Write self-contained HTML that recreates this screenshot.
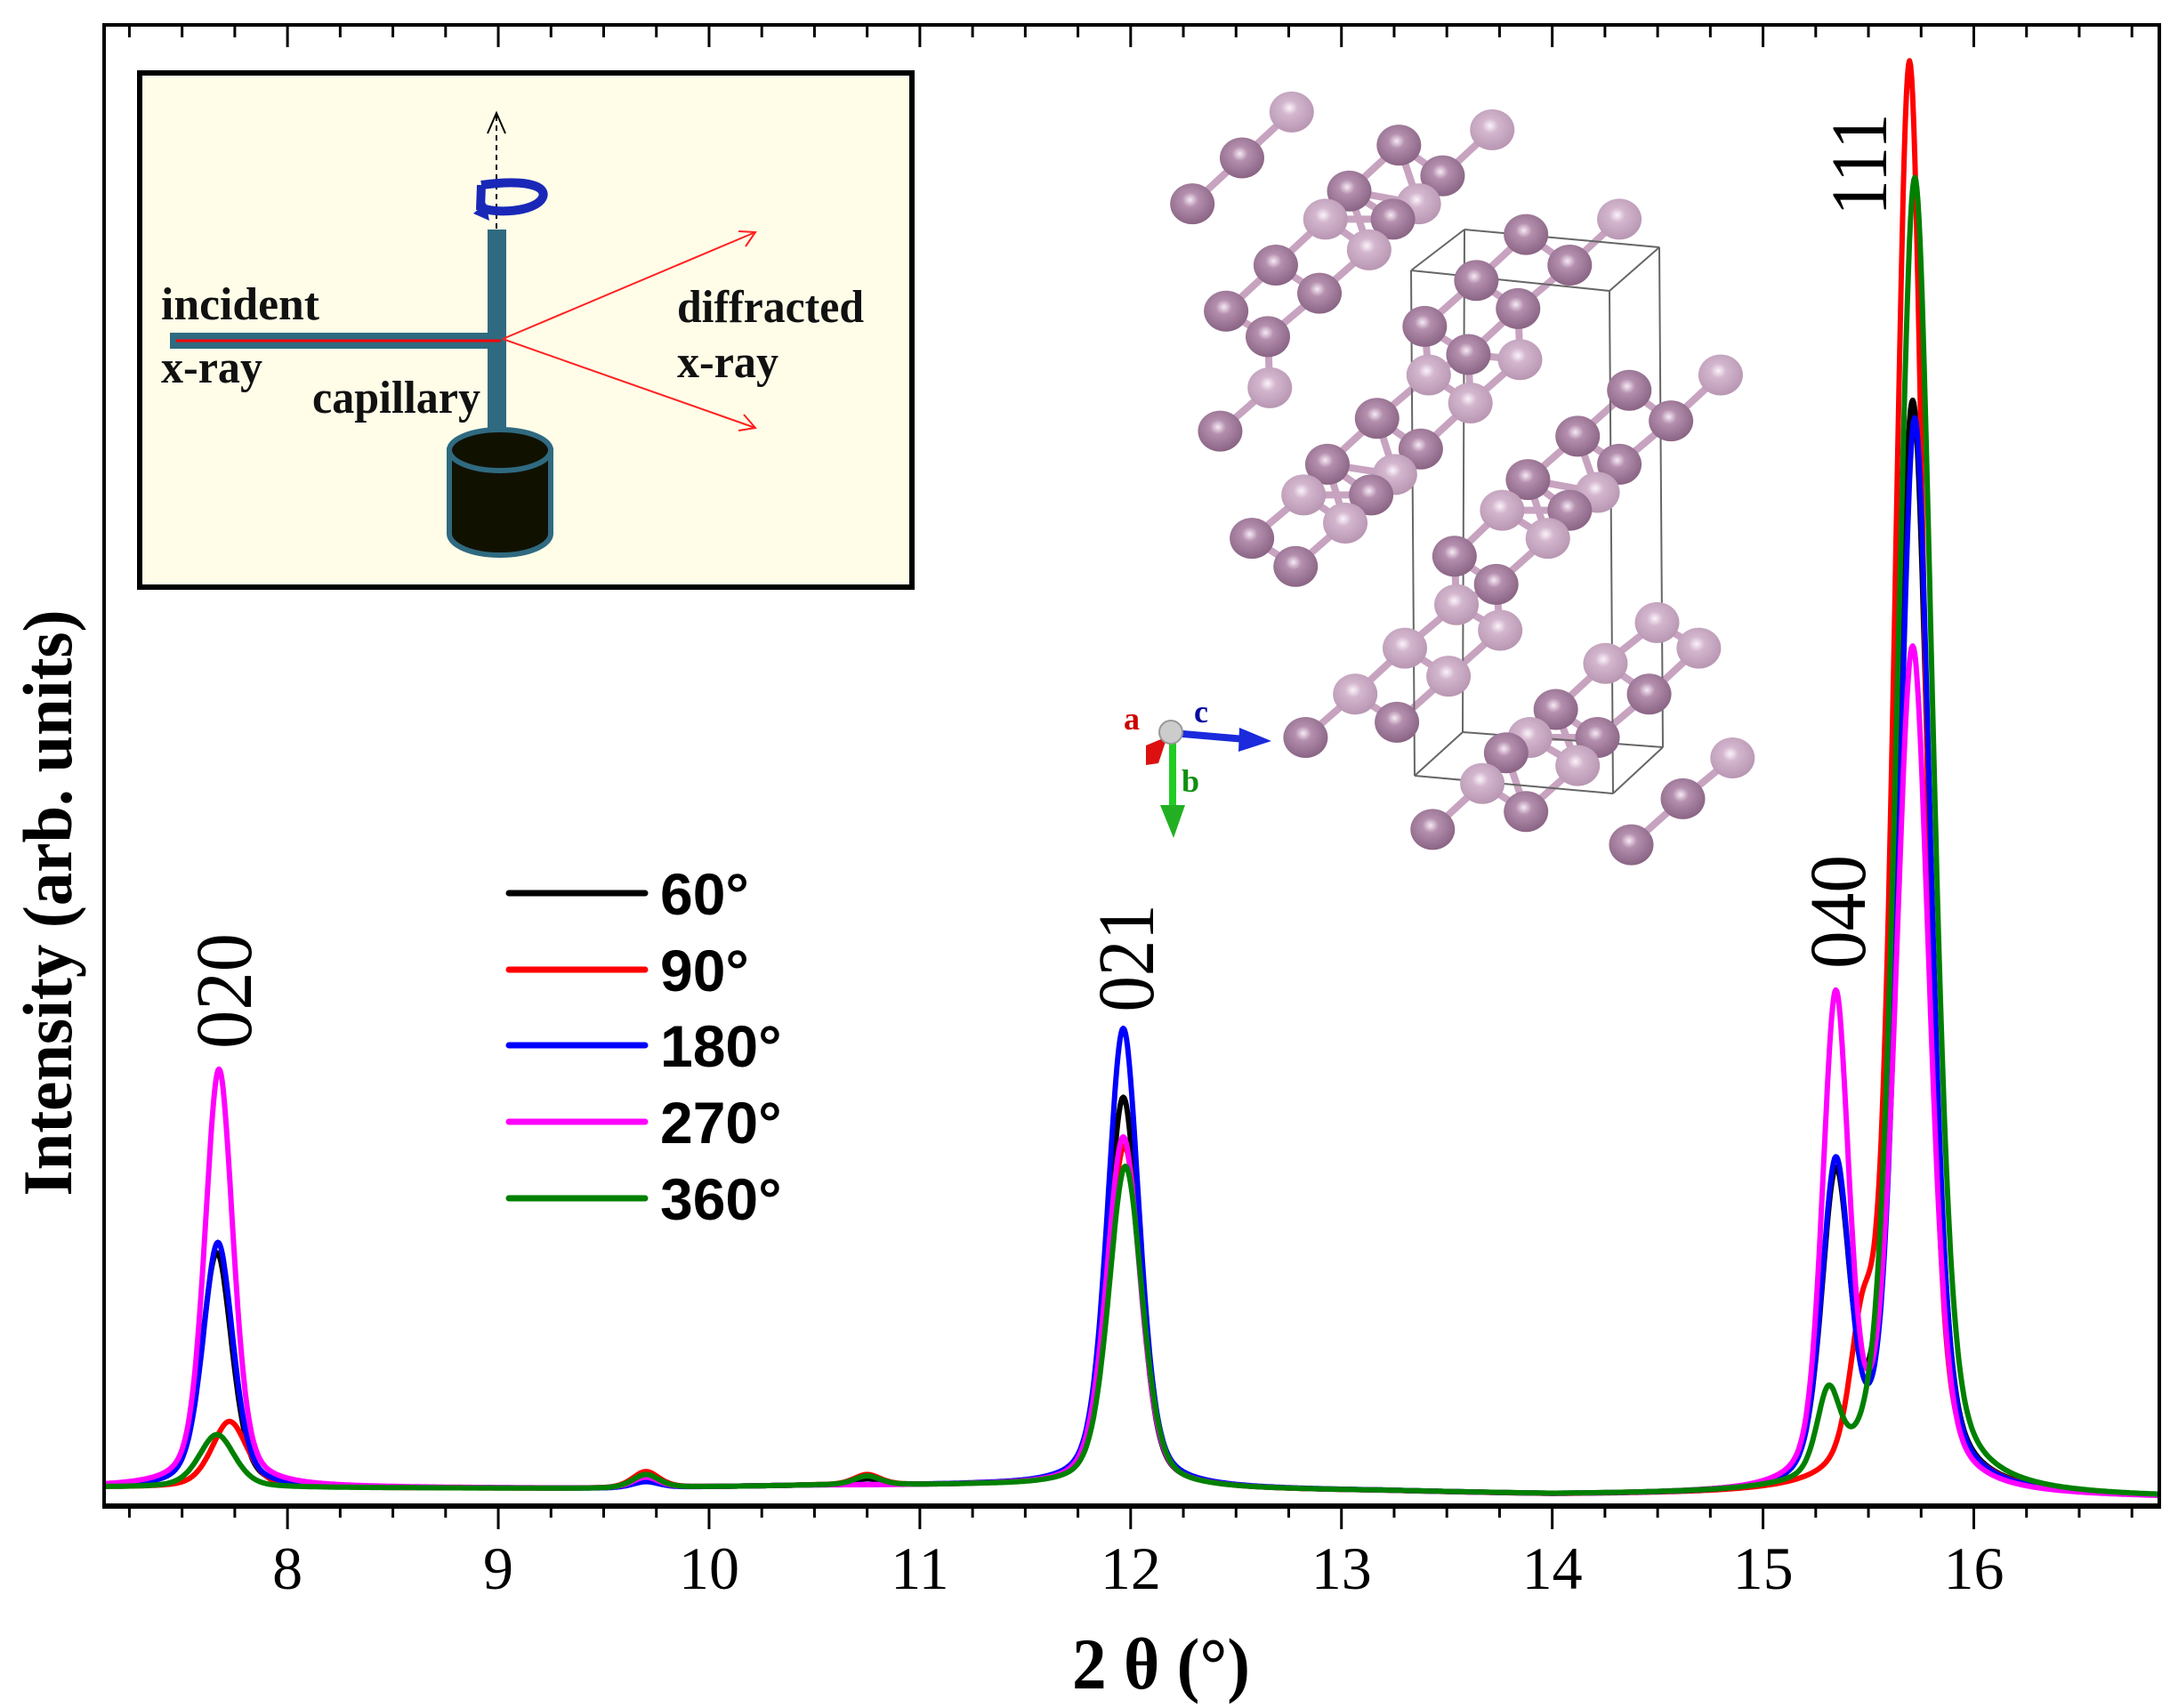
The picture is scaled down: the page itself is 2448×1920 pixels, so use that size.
<!DOCTYPE html>
<html><head><meta charset="utf-8"><style>
html,body{margin:0;padding:0;background:#fff}
svg{display:block}
</style></head><body>
<svg id="chart" width="2448" height="1920" viewBox="0 0 2448 1920" xmlns="http://www.w3.org/2000/svg">
<defs>
  <radialGradient id="gDark" cx="0.45" cy="0.4" r="0.6"><stop offset="0" stop-color="#f6eaf4"/><stop offset="0.3" stop-color="#b48fae"/><stop offset="1" stop-color="#8a6484"/></radialGradient>
  <radialGradient id="gLight" cx="0.45" cy="0.4" r="0.6"><stop offset="0" stop-color="#fbf3fa"/><stop offset="0.3" stop-color="#d3b6ce"/><stop offset="1" stop-color="#b896b2"/></radialGradient>
</defs>
<rect x="0" y="0" width="2448" height="1920" fill="#fff"/>
<g id="structure"></g>
<g id="series"></g>
<g id="frame">
  <line x1="117" y1="28" x2="117" y2="1693" stroke="#000" stroke-width="4"/>
  <line x1="2427" y1="28" x2="2427" y2="1693" stroke="#000" stroke-width="4"/>
  <line x1="115" y1="28" x2="2429" y2="28" stroke="#000" stroke-width="4"/>
  <line x1="115" y1="1693" x2="2429" y2="1693" stroke="#000" stroke-width="6"/>
</g>
<g id="ticks"></g>
<text x="1305" y="1898" text-anchor="middle" font-family="Liberation Serif, serif" font-weight="bold" font-size="82" textLength="200" lengthAdjust="spacingAndGlyphs">2 θ (°)</text>
<text transform="translate(80,1015) rotate(-90)" text-anchor="middle" font-family="Liberation Serif, serif" font-weight="bold" font-size="78" textLength="659" lengthAdjust="spacingAndGlyphs">Intensity (arb. units)</text>
<g font-family="Liberation Serif, serif" font-size="90">
  <text transform="translate(282,1114) rotate(-90)" text-anchor="middle" textLength="130" lengthAdjust="spacingAndGlyphs">020</text>
  <text transform="translate(1296,1077) rotate(-90)" text-anchor="middle" textLength="121" lengthAdjust="spacingAndGlyphs">021</text>
  <text transform="translate(2096,1025) rotate(-90)" text-anchor="middle" textLength="128" lengthAdjust="spacingAndGlyphs">040</text>
  <text transform="translate(2120,185) rotate(-90)" text-anchor="middle" textLength="115" lengthAdjust="spacingAndGlyphs">111</text>
</g>
<g id="legend"></g>
<g>
  <rect x="157" y="82" width="868" height="578" fill="#fffde8" stroke="#000" stroke-width="6"/>
  <line x1="558" y1="130" x2="558" y2="527" stroke="#000" stroke-width="2" stroke-dasharray="6,5"/>
  <polyline points="548,150 558,127 568,150" fill="none" stroke="#000" stroke-width="2"/>
  <path d="M541,208 C600,200 618,212 608,225 C595,240 548,240 540,232 M541,208 L540,236" fill="none" stroke="#1a28b8" stroke-width="10"/>
  <path d="M532,240 L546,228 L550,248 Z" fill="#1a28b8"/>
  <rect x="548" y="258" width="21" height="230" fill="#2f6a80"/>
  <rect x="191" y="374" width="372" height="18" fill="#2f6a80"/>
  <line x1="198" y1="383" x2="563" y2="383" stroke="#ff0000" stroke-width="3"/>
  <line x1="565" y1="381" x2="849" y2="261" stroke="#ff2020" stroke-width="2"/>
  <polyline points="830,260 849,261 838,277" fill="none" stroke="#ff2020" stroke-width="2"/>
  <line x1="565" y1="381" x2="849" y2="481" stroke="#ff2020" stroke-width="2"/>
  <polyline points="836,466 849,481 830,484" fill="none" stroke="#ff2020" stroke-width="2"/>
  <path d="M505,506 L505,600 A57,24 0 0 0 619,600 L619,506 Z" fill="#111100" stroke="#2f6a80" stroke-width="6"/>
  <ellipse cx="562" cy="506" rx="57" ry="23" fill="#111100" stroke="#2f6a80" stroke-width="6"/>
  <g font-family="Liberation Serif, serif" font-weight="bold" font-size="52" fill="#111">
    <text x="181" y="359" textLength="178" lengthAdjust="spacingAndGlyphs">incident</text>
    <text x="181" y="430" textLength="114" lengthAdjust="spacingAndGlyphs">x-ray</text>
    <text x="351" y="464" textLength="189" lengthAdjust="spacingAndGlyphs">capillary</text>
    <text x="761" y="362" textLength="210" lengthAdjust="spacingAndGlyphs">diffracted</text>
    <text x="761" y="424" textLength="114" lengthAdjust="spacingAndGlyphs">x-ray</text>
  </g>
</g>
<g>
  <line x1="1318" y1="826" x2="1318" y2="912" stroke="#22cc22" stroke-width="8"/>
  <path d="M1304,905 L1332,905 L1319,942 Z" fill="#22b022"/>
  <line x1="1318" y1="824" x2="1400" y2="831" stroke="#1a2adc" stroke-width="8"/>
  <path d="M1393,818 L1429,833 L1392,845 Z" fill="#1a2adc"/>
  <path d="M1288,838 L1312,828 L1302,858 L1288,860 Z" fill="#dd1010"/>
  <circle cx="1316" cy="823" r="13" fill="#ccc" stroke="#999" stroke-width="2"/>
  <text x="1263" y="820" font-family="Liberation Serif, serif" font-weight="bold" font-size="36" fill="#cc0000">a</text>
  <text x="1342" y="812" font-family="Liberation Serif, serif" font-weight="bold" font-size="36" fill="#0a0aa0">c</text>
  <text x="1328" y="890" font-family="Liberation Serif, serif" font-weight="bold" font-size="36" fill="#109010">b</text>
</g>
<script>
// ---- chart data ----
var xDomain = [7.13, 16.88];
var yDomain = [0, 1000];
var tickValues = [8, 9, 10, 11, 12, 13, 14, 15, 16];
var tickLabels = ["8", "9", "10", "11", "12", "13", "14", "15", "16"];
var seriesNames = ["60°", "90°", "180°", "270°", "360°"];
var seriesColors = ["#000000", "#ff0000", "#0000ff", "#ff00ff", "#008000"];
var baseX = [7.13, 9.5, 10.5, 11.3, 12.6, 13.2, 14.0, 15.0, 16.4, 16.88];
var baseV = [11, 10, 12, 12, 9, 8, 5.5, 5.5, 4, 3.6];
// peak centres (deg), heights (arb.), widths (deg FWHM) per series
var peaks60c = [7.665, 9.70, 10.75, 11.965, 15.345, 15.71];
var peaks60h = [160, 6, 4, 266, 205, 743];
var peaks60w = [0.17, 0.15, 0.15, 0.18, 0.16, 0.19];
var peaks90c = [7.725, 9.70, 10.75, 11.97, 15.47, 15.695];
var peaks90h = [45, 11, 7, 233, 85, 975];
var peaks90w = [0.2, 0.15, 0.15, 0.19, 0.14, 0.17];
var peaks180c = [7.67, 9.70, 11.965, 15.345, 15.72];
var peaks180h = [167, 4, 313, 215, 731];
var peaks180w = [0.17, 0.15, 0.18, 0.16, 0.18];
var peaks270c = [7.675, 9.70, 11.965, 15.345, 15.71];
var peaks270h = [285, 7, 239, 330, 574];
var peaks270w = [0.16, 0.15, 0.19, 0.15, 0.19];
var peaks360c = [7.665, 9.70, 10.75, 11.975, 15.31, 15.72];
var peaks360h = [36, 9, 6, 219, 55, 898];
var peaks360w = [0.2, 0.15, 0.15, 0.19, 0.13, 0.2];

var NS = "http://www.w3.org/2000/svg";
var PX0 = 117, PX1 = 2427, PY0 = 1690, PY1 = 40;
function xs(v){ return PX0 + (v - xDomain[0]) / (xDomain[1] - xDomain[0]) * (PX1 - PX0); }
function ys(v){ return PY0 - (v - yDomain[0]) / (yDomain[1] - yDomain[0]) * (PY0 - PY1); }
function baseAt(x){
  for (var i = 0; i < baseX.length - 1; i++) {
    if (x <= baseX[i+1]) { var t = (x - baseX[i]) / (baseX[i+1] - baseX[i]); return baseV[i] + t * (baseV[i+1] - baseV[i]); }
  }
  return baseV[baseV.length - 1];
}
function profile(x, c, h, w){
  var d = (x - c) / w, eta = 0.4;
  return h * (eta / (1 + 4 * d * d) + (1 - eta) * Math.exp(-2.7726 * d * d));
}
var allC = [peaks60c, peaks90c, peaks180c, peaks270c, peaks360c];
var allH = [peaks60h, peaks90h, peaks180h, peaks270h, peaks360h];
var allW = [peaks60w, peaks90w, peaks180w, peaks270w, peaks360w];
var sg = document.getElementById('series');
for (var s = 0; s < 5; s++) {
  var pts = [];
  for (var x = xDomain[0]; x <= xDomain[1]; x += 0.005) {
    var v = baseAt(x);
    for (var k = 0; k < allC[s].length; k++) v += profile(x, allC[s][k], allH[s][k], allW[s][k]);
    pts.push(xs(x).toFixed(1) + "," + ys(v).toFixed(1));
  }
  var pl = document.createElementNS(NS, 'polyline');
  
  
  pl.setAttribute('points', pts.join(' '));
  pl.setAttribute('fill', 'none');
  pl.setAttribute('stroke', seriesColors[s]);
  pl.setAttribute('stroke-width', '6');
  pl.setAttribute('stroke-linejoin', 'round');
  sg.appendChild(pl);
}
// ticks
var tg = document.getElementById('ticks');
function addLine(g, x1, y1, x2, y2, w){
  var l = document.createElementNS(NS, 'line');
  
  
  l.setAttribute('x1', x1); l.setAttribute('y1', y1); l.setAttribute('x2', x2); l.setAttribute('y2', y2);
  l.setAttribute('stroke', '#000'); l.setAttribute('stroke-width', w);
  g.appendChild(l);
}
for (var m = 7.25; m < xDomain[1]; m += 0.25) {
  var major = Math.abs(m - Math.round(m)) < 1e-6;
  var px = xs(m);
  addLine(tg, px, 1693, px, 1693 + (major ? 26 : 13), 3);
  addLine(tg, px, 28, px, 28 + (major ? 25 : 14), 3);
}
for (var i = 0; i < tickValues.length; i++) {
  var t = document.createElementNS(NS, 'text');
  
  
  t.setAttribute('x', xs(tickValues[i]));
  t.setAttribute('y', 1786);
  t.setAttribute('text-anchor', 'middle');
  t.setAttribute('font-family', 'Liberation Serif, serif');
  t.setAttribute('font-size', '68');
  t.textContent = tickLabels[i];
  tg.appendChild(t);
}
// legend
var lg = document.getElementById('legend');
var legY = [1004, 1090, 1175, 1261, 1347];
for (var i = 0; i < 5; i++) {
  var l = document.createElementNS(NS, 'line');
  
  
  l.setAttribute('x1', 572); l.setAttribute('x2', 725);
  l.setAttribute('y1', legY[i]); l.setAttribute('y2', legY[i]);
  l.setAttribute('stroke', seriesColors[i]); l.setAttribute('stroke-width', '7'); l.setAttribute('stroke-linecap', 'round');
  lg.appendChild(l);
  var t = document.createElementNS(NS, 'text');
  
  
  t.setAttribute('x', 742); t.setAttribute('y', legY[i] + 24);
  t.setAttribute('font-family', 'Liberation Sans, sans-serif');
  t.setAttribute('font-weight', 'bold');
  t.setAttribute('font-size', '66');
  t.textContent = seriesNames[i];
  lg.appendChild(t);
}
// crystal structure illustration
var atoms = [[340,45,1],[845,80,1],[610,110,0],[215,135,0],[720,170,0],[485,200,0],[90,225,0],[425,255,1],[660,225,1],[595,255,0],[535,315,1],[1165,255,1],[930,285,0],[300,345,0],[410,400,0],[1040,345,0],[175,435,0],[805,375,0],[280,485,0],[910,430,0],[675,465,0],[785,520,0],[915,530,1],[285,585,1],[685,560,1],[1420,560,1],[1190,590,0],[160,670,0],[790,615,1],[555,645,0],[1295,650,0],[665,705,0],[1060,680,0],[430,735,0],[1165,735,0],[600,755,1],[370,795,1],[540,795,0],[935,765,0],[1110,790,1],[870,825,1],[1040,825,0],[475,850,1],[985,880,1],[240,880,0],[750,915,0],[350,935,0],[855,970,0],[755,1010,1],[1260,1045,1],[865,1060,1],[625,1095,1],[1365,1095,1],[1130,1125,1],[735,1150,1],[500,1185,1],[1240,1185,0],[1005,1215,0],[375,1270,0],[605,1240,0],[1110,1270,0],[940,1270,1],[880,1300,0],[1060,1325,1],[820,1360,1],[1450,1310,1],[930,1415,0],[1325,1390,0],[695,1450,0],[1195,1480,0]];
var stg = document.getElementById('structure');
var P = atoms.map(function(a){ return [1300 + a[0] / 2.24, 100 + a[1] / 1.742, a[2]]; });
var cell = [[1646,258,1865,278],[1586,304,1809,327],[1646,258,1586,304],[1865,278,1809,327],[1590,872,1813,892],[1644,823,1869,840],[1590,872,1644,823],[1813,892,1869,840],[1586,304,1590,872],[1809,327,1813,892],[1646,258,1644,823],[1865,278,1869,840]];
for (var i = 0; i < P.length; i++) for (var j = i + 1; j < P.length; j++) {
  var dx = P[i][0] - P[j][0], dy = P[i][1] - P[j][1], d = Math.sqrt(dx*dx + dy*dy);
  if (d < 80 && d > 20) {
    var b = document.createElementNS(NS, 'line');
    
    
    b.setAttribute('x1', P[i][0]); b.setAttribute('y1', P[i][1]); b.setAttribute('x2', P[j][0]); b.setAttribute('y2', P[j][1]);
    b.setAttribute('stroke', '#c7a3c0'); b.setAttribute('stroke-width', '8');
    stg.appendChild(b);
  }
}
for (var i = 0; i < cell.length; i++) {
  var c = document.createElementNS(NS, 'line');
  
  
  c.setAttribute('x1', cell[i][0]); c.setAttribute('y1', cell[i][1]); c.setAttribute('x2', cell[i][2]); c.setAttribute('y2', cell[i][3]);
  c.setAttribute('stroke', '#666'); c.setAttribute('stroke-width', '2');
  stg.appendChild(c);
}
for (var i = 0; i < P.length; i++) {
  var a = document.createElementNS(NS, 'ellipse');
  
  
  a.setAttribute('cx', P[i][0]); a.setAttribute('cy', P[i][1]); a.setAttribute('rx', 25); a.setAttribute('ry', 23);
  a.setAttribute('fill', P[i][2] ? 'url(#gLight)' : 'url(#gDark)');
  stg.appendChild(a);
}
</script>
</svg>
</body></html>
